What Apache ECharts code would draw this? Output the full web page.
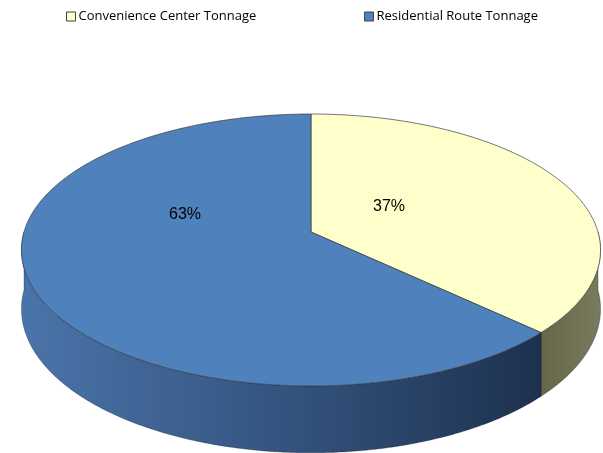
<!DOCTYPE html>
<html><head><meta charset="utf-8">
<script src="https://cdn.jsdelivr.net/npm/echarts@6/dist/echarts.min.js"></script>
<style>html,body{margin:0;padding:0;background:#fff}#c{width:603px;height:453px}</style>
</head><body><div id="c"></div>
<script>
const categories = ['Convenience Center Tonnage', 'Residential Route Tonnage'];
const shares = [37, 63];

const topColors = ['#ffffcc', '#4f81bd'];
const wallStops = [
  [[0, '#66664b'], [1, '#7a7a5e']],
  [[0, '#4a74aa'], [0.5, '#34547f'], [1, '#1d314e']]
];
const labelOffsets = [[78, -25], [-126, -17]];

const total = shares.reduce((a, b) => a + b, 0);
const CX = 311, CY = 232, A = 287, B = 133.6, P = 0.1323, H = 58;
function pt(t, drop) {
  const s = Math.sin(t), c = Math.cos(t);
  const k = 1 / (1 + P * c);
  return [CX + A * s * k, CY - B * c * k + drop * k];
}
function arc(t1, t2, drop) {
  const n = Math.max(2, Math.ceil((t2 - t1) / 0.01));
  const out = [];
  for (let j = 0; j <= n; j++) out.push(pt(t1 + (t2 - t1) * j / n, drop));
  return out;
}
function build(i, value) {
  let before = 0;
  for (let j = 0; j < i; j++) before += shares[j];
  const t1 = before / total * Math.PI * 2;
  const t2 = (before + value) / total * Math.PI * 2;
  const children = [];
  const lo = Math.max(t1, Math.PI / 2), hi = Math.min(t2, Math.PI * 1.5);
  if (lo < hi) {
    const pts = arc(lo, hi, 0).concat(arc(lo, hi, H).reverse());
    children.push({
      type: 'polygon', z2: 1, shape: { points: pts },
      style: {
        fill: new echarts.graphic.LinearGradient(0, 0, 1, 0,
          wallStops[i].map(s => ({ offset: s[0], color: s[1] }))),
        stroke: 'rgba(0,0,0,0.45)', lineWidth: 0.6
      }
    });
  }
  children.push({
    type: 'polygon', z2: 10,
    shape: { points: [[CX, CY]].concat(arc(t1, t2, 0)) },
    style: { fill: topColors[i], stroke: '#3a3a3a', lineWidth: 0.7 }
  });
  children.push({
    type: 'text', z2: 20,
    style: {
      text: Math.round(value / total * 100) + '%',
      x: CX + labelOffsets[i][0], y: CY + labelOffsets[i][1],
      fill: '#000', font: '16px "Liberation Sans", Arial, sans-serif',
      align: 'center', verticalAlign: 'middle'
    }
  });
  return { type: 'group', children };
}

const chart = echarts.init(document.getElementById('c'));
chart.setOption({
  animation: false,
  legend: [0, 1].map(i => ({
    data: [categories[i]],
    left: i === 0 ? 61 : 359, top: 5,
    icon: 'rect', itemWidth: 9, itemHeight: 9, itemGap: 4,
    itemStyle: { borderColor: '#404040', borderWidth: 1 },
    textStyle: { color: '#000', fontSize: 13, fontFamily: 'Open Sans', padding: [0, 0, 0, -2] }
  })),
  series: categories.map((name, i) => ({
    type: 'custom', name, coordinateSystem: 'none',
    data: [shares[i]],
    itemStyle: { color: topColors[i] },
    renderItem: (params, api) => build(i, api.value(0))
  }))
});
</script></body></html>
